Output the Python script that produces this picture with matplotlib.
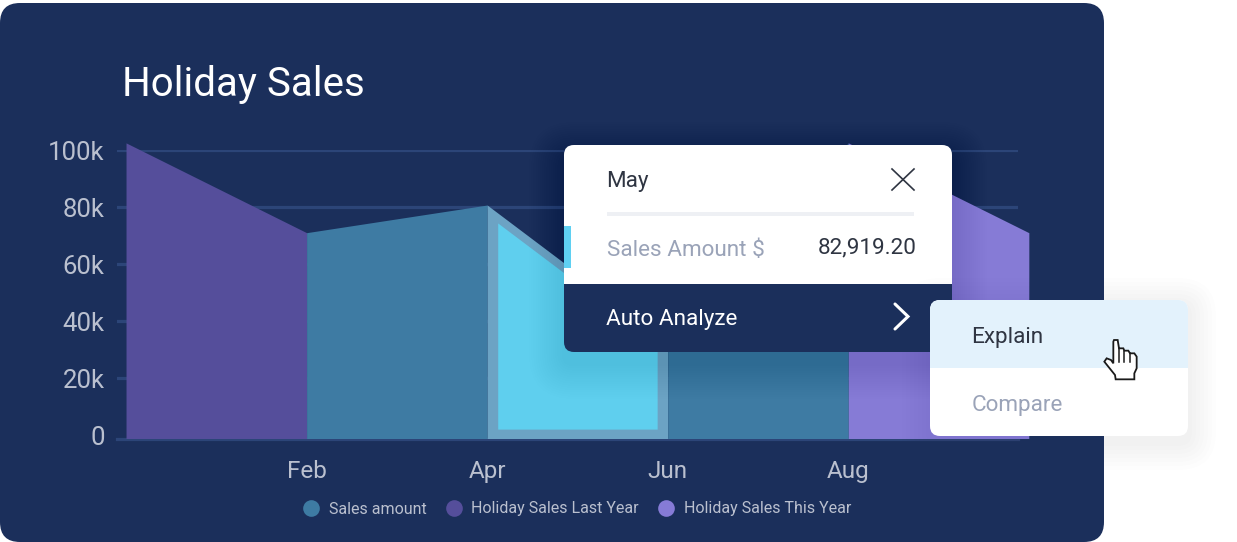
import numpy as np
import matplotlib
matplotlib.use('Agg')
import matplotlib.pyplot as plt
from matplotlib.lines import Line2D
from matplotlib.patches import FancyBboxPatch, Rectangle, Polygon

plt.rcParams['font.family'] = ['Roboto', 'DejaVu Sans']

W, H = 1237, 542

# values, one point every two months
month_pos = [0, 2, 4, 6, 8, 10]
values = [102500, 71000, 80700, 33000, 102500, 71000]
tick_pos = [2, 4, 6, 8]
tick_labels = ['Feb', 'Apr', 'Jun', 'Aug']
y_ticks = [0, 20000, 40000, 60000, 80000, 100000]
y_labels = ['0', '20k', '40k', '60k', '80k', '100k']
legend_names = ['Sales amount', 'Holiday Sales Last Year', 'Holiday Sales This Year']

NAVY = '#1B2F5B'
TEAL = '#3E7BA3'
DARK_PURPLE = '#554E9B'
LIGHT_PURPLE = '#867BD6'
SELECT_EDGE = '#6CA3C4'
SELECT_FILL = '#5FCFEE'
GRID = '#2C4578'
LABEL = '#BAC0CF'
INK = '#2F3542'
MUTED = '#9AA3B8'


def rbox(ax, x0, y0, x1, y1, r, **kw):
    p = FancyBboxPatch((x0, y0), x1 - x0, y1 - y0, boxstyle='round,pad=0,rounding_size=%s' % r, lw=0, **kw)
    ax.add_patch(p)
    return p


def shadow(ax, x0, y0, x1, y1, r, spread, dy, alpha, color='#0B1530', n=16):
    for i in range(n):
        s = spread * (1 - i / n)
        rbox(ax, x0 - s, y0 - s + dy, x1 + s, y1 + s + dy, r + s, fc=color, alpha=alpha, clip_on=True)


fig = plt.figure(figsize=(W / 100, H / 100), dpi=100, facecolor='white')

# card behind the chart
bg = fig.add_axes([0, 0, 1, 1], zorder=0)
bg.set_xlim(0, W)
bg.set_ylim(H, 0)
bg.axis('off')
rbox(bg, 0, 3, 1104, 542, 20, fc=NAVY)

# chart, axes box goes from x 117 to 1018, y 150 to 438.5 in pixels
ax = fig.add_axes([117 / W, 1 - 438.5 / H, 901 / W, 288.5 / H], zorder=1)
ax.patch.set_alpha(0)
ax.set_xlim(-0.1, 9.88)
ax.set_ylim(-1200, 100000)
for s in ['top', 'right', 'left']:
    ax.spines[s].set_visible(False)
ax.spines['bottom'].set_color(GRID)
ax.spines['bottom'].set_linewidth(2.3)
ax.spines['bottom'].set_zorder(1)
ax.set_xticks(tick_pos)
ax.set_xticklabels(tick_labels, fontsize=17.5, color=LABEL)
ax.set_yticks(y_ticks)
ax.set_yticklabels(y_labels, fontsize=18.5, color=LABEL)
ax.tick_params(axis='both', length=0)
ax.tick_params(axis='x', pad=15.5)
ax.tick_params(axis='y', pad=9)
ax.grid(axis='y', color=GRID, lw=2.3)
ax.get_ygridlines()[0].set_visible(False)
ax.set_axisbelow(True)

base = ax.get_ylim()[0]
seg_colors = [DARK_PURPLE, TEAL, SELECT_EDGE, TEAL, LIGHT_PURPLE]
for i in range(len(month_pos) - 1):
    ax.fill_between(month_pos[i:i + 2], values[i:i + 2], base, color=seg_colors[i], lw=0, clip_on=False, zorder=2)

# bright inner part of the selected segment
inset = 0.117
xs = np.array([month_pos[2] + inset, month_pos[3] - inset])
ax.fill_between(xs, np.interp(xs, month_pos, values) - 3500, 2100, color=SELECT_FILL, lw=0, zorder=3)

handles = [Line2D([], [], ls='', marker='o', ms=12, mew=0, color=c) for c in [TEAL, DARK_PURPLE, LIGHT_PURPLE]]
ax.legend(handles, legend_names, loc='center', bbox_to_anchor=((573 - 117) / 901, (438.5 - 509) / 288.5),
          ncol=3, frameon=False, fontsize=11.5, labelcolor=LABEL, handletextpad=0.1, columnspacing=0.71)

# popups drawn in pixel coordinates on top
ui = fig.add_axes([0, 0, 1, 1], zorder=2)
ui.set_xlim(0, W)
ui.set_ylim(H, 0)
ui.axis('off')
ui.patch.set_alpha(0)

ui.text(122, 84, 'Holiday Sales', fontsize=29, color='white', va='center')

shadow(ui, 564, 145, 952, 352, 10, 35, 12, 0.005)
rbox(ui, 564, 145, 952, 352, 10, fc=NAVY)
top = rbox(ui, 564, 145, 952, 352, 10, fc='white')
clip = Rectangle((560, 140), 400, 144, transform=ui.transData)
top.set_clip_path(clip)
ui.add_patch(Rectangle((564, 226), 7, 42, fc='#5FD0F2', lw=0))

ui.text(606, 181, 'May', fontsize=16.2, color=INK, va='center')
ui.add_patch(Rectangle((607, 212), 307, 4, fc='#EEF0F4', lw=0))
ui.text(607, 250, 'Sales Amount $', fontsize=16.2, color=MUTED, va='center')
ui.text(917, 248, '82,919.20', fontsize=16.2, color=INK, va='center', ha='right')
ui.plot([892, 914], [169, 190], color=INK, lw=1.2)
ui.plot([892, 914], [190, 169], color=INK, lw=1.2)
ui.text(606, 319, 'Auto Analyze', fontsize=16.2, color='white', va='center')
ui.plot([895, 908, 895], [304, 316.5, 329], color='white', lw=2.2, solid_capstyle='round', solid_joinstyle='miter')

shadow(ui, 930, 300, 1188, 436, 10, 28, 6, 0.006, color='#30406A', n=7)
rbox(ui, 930, 300, 1188, 436, 10, fc='white')
hi = rbox(ui, 930, 300, 1188, 436, 10, fc='#E3F2FC')
hi.set_clip_path(Rectangle((925, 295), 270, 73, transform=ui.transData))
ui.text(971, 337, 'Explain', fontsize=16.2, color=INK, va='center')
ui.text(971.5, 405, 'Compare', fontsize=16.2, color=MUTED, va='center')

# hand cursor, outline taken from a zoomed crop
hand = np.array([(57, 30), (68, 30), (72, 55), (85, 55), (88, 62), (100, 62), (105, 70), (118, 70), (125, 80),
                 (125, 115), (118, 130), (118, 148), (62, 148), (60, 135), (28, 95), (35, 85), (48, 90), (55, 100),
                 (55, 35)]) / 3 + [1095, 330]
ui.add_patch(Polygon(hand, closed=True, fc='white', ec='#1A1A1A', lw=1.3, joinstyle='miter'))
for zx, zy in [(72, 55), (88, 62), (105, 70)]:
    ui.plot([1095 + zx / 3] * 2, [330 + zy / 3, 330 + 95 / 3], color='#1A1A1A', lw=1.1)

fig.savefig('out.png', dpi=100, facecolor='white')
